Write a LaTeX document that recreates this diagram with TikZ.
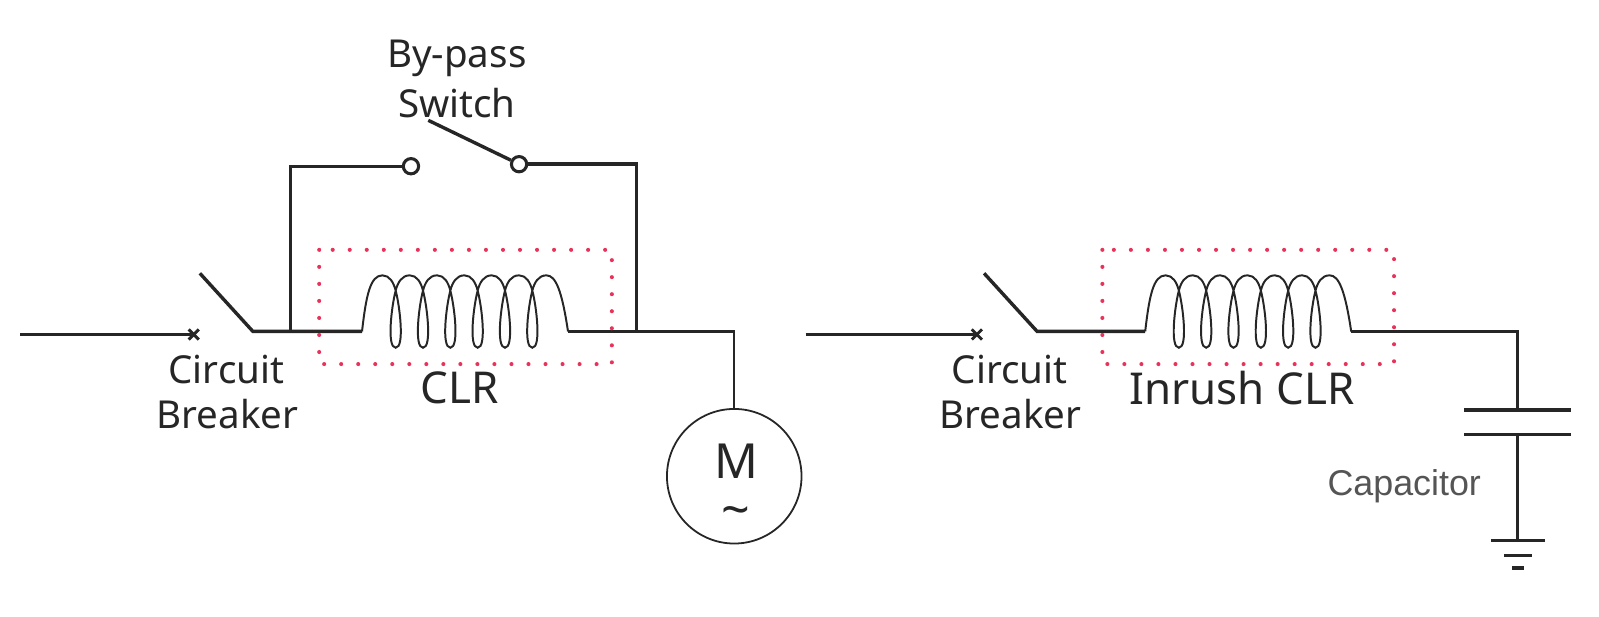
\documentclass[tikz,border=0pt]{standalone}
\usepackage{fontspec}
\setmainfont{Noto Sans}
\newfontfamily\capfont{Liberation Sans}
\usetikzlibrary{calc}

\definecolor{dotred}{RGB}{232,50,90}
\definecolor{capgray}{RGB}{85,85,85}

\tikzset{
  wire/.style={black!85,line width=1.9pt},
  coilwire/.style={black!85,line width=1.1pt},
  xmark/.style={black!85,line width=1.6pt},
  clrbox/.style={dotred,line width=0.08cm,line cap=round,dash pattern=on 0pt off 0.334cm},
  lbl/.style={inner sep=0pt,font=\fontsize{21.5}{21.5}\selectfont,text=black!85},
  biglbl/.style={inner sep=0pt,font=\fontsize{24.5}{24.5}\selectfont,text=black!85},
  contact/.style={circle,draw=black!85,line width=1.7pt,fill=white,minimum size=0.3cm,inner sep=0pt},
  pics/coil/.style={code={
    \draw[coilwire] (0,0) .. controls (4,-35) and (8,-55) .. (20,-55)
      foreach \k in {0,...,5} {
        .. controls ($(27+26.8*\k,-55)$) and ($(31+26.8*\k,-48)$) .. ($(33+26.8*\k,-40)$)
        .. controls ($(37+26.8*\k,-25)$) and ($(42+26.8*\k,16)$) .. ($(33+26.8*\k,16)$)
        .. controls ($(24+26.8*\k,16)$) and ($(29+26.8*\k,-25)$) .. ($(33+26.8*\k,-40)$)
        .. controls ($(35+26.8*\k,-48)$) and ($(39+26.8*\k,-55)$) .. ($(46.8+26.8*\k,-55)$)
      }
      .. controls (190,-55) and (196,-40) .. (202,0);
  }}
}

\begin{document}
\begin{tikzpicture}[x=0.02cm,y=-0.02cm]

\useasboundingbox (0,0) rectangle (1568,605);

% left circuit
\coordinate (Lin) at (20,328);
\coordinate (Lx) at (190,328);
\coordinate (Larm) at (196,268);
\coordinate (Lpiv) at (248,325);
\coordinate (Ltap) at (285,325);
\coordinate (Lcoila) at (355,325);
\coordinate (Lcoilb) at (557,325);
\coordinate (Lret) at (624,325);
\coordinate (Ltop) at (285,163);
\coordinate (Rtop) at (624,161);
\coordinate (Lcor) at (720,325);
\coordinate (Swarm) at (420,118);

\node[contact] (Swa) at (403,163) {};
\node[contact] (Swb) at (509,161) {};
\node[circle,draw=black!85,line width=1pt,minimum size=2.64cm,inner sep=0pt] (Motor) at (720,467) {};

\draw[wire] (Lin)--(Lx);
\draw[xmark] ($(Lx)+(-5,-5)$)--($(Lx)+(5,5)$);
\draw[xmark] ($(Lx)+(-5,5)$)--($(Lx)+(5,-5)$);
\draw[wire] (Larm)--(Lpiv)--(Lcoila);
\draw[wire] (Ltap)--(Ltop)--(Swa);
\draw[wire] (Swarm)--(Swb);
\draw[wire] (Swb)--(Rtop)--(Lret);
\draw[wire] (Lcoilb)--(Lret);
\draw[wire,line width=1.3pt] (Lret)--(Lcor)--(Motor);
\pic at (Lcoila) {coil};
\draw[clrbox] (313,245) rectangle (600,357);

\node[lbl] (Lbypass) at (448,57) {By-pass};
\node[lbl] (Lswitch) at (448,101) {Switch};
\node[lbl] (Lcircuit) at (222,362) {Circuit};
\node[lbl] (Lbreaker) at (223,406) {Breaker};
\node[biglbl] (Lclr) at (451,380) {CLR};
\node[inner sep=0pt,font=\fontsize{27}{27}\selectfont,text=black!85] (Mm) at (722,452) {M};
\node[inner sep=0pt,font=\fontsize{28}{28}\selectfont,text=black!85] (Mt) at (722,507) {\textasciitilde};

% right circuit
\coordinate (Rin) at (790,328);
\coordinate (Rx) at (958,328);
\coordinate (Rarm) at (965,268);
\coordinate (Rpiv) at (1017,325);
\coordinate (Rcoila) at (1123,325);
\coordinate (Rcoilb) at (1325,325);
\coordinate (Rcor) at (1488,325);
\coordinate (Capa) at (1488,402);
\coordinate (Capb) at (1488,426);
\coordinate (Gnd) at (1488,530);

\draw[wire] (Rin)--(Rx);
\draw[xmark] ($(Rx)+(-5,-5)$)--($(Rx)+(5,5)$);
\draw[xmark] ($(Rx)+(-5,5)$)--($(Rx)+(5,-5)$);
\draw[wire] (Rarm)--(Rpiv)--(Rcoila);
\draw[wire] (Rcoilb)--(Rcor)--(Capa);
\draw[wire] ($(Capa)+(-52,0)$)--($(Capa)+(53,0)$);
\draw[wire] ($(Capb)+(-52,0)$)--($(Capb)+(53,0)$);
\draw[wire] (Capb)--(Gnd);
\draw[wire] ($(Gnd)+(-26,0)$)--($(Gnd)+(27,0)$);
\draw[wire] ($(Gnd)+(-13,15)$)--($(Gnd)+(14,15)$);
\draw[wire] ($(Gnd)+(-5,27)$)--($(Gnd)+(6,27)$);
\pic at (Rcoila) {coil};
\draw[clrbox] (1081,245) rectangle (1367,357);

\node[lbl] (Rcircuit) at (990,362) {Circuit};
\node[lbl] (Rbreaker) at (991,406) {Breaker};
\node[biglbl] (Rclr) at (1218,381) {Inrush CLR};
\node[inner sep=0pt,font=\capfont\fontsize{20}{20}\selectfont,text=capgray] (Rcap) at (1377,477) {Capacitor};

\end{tikzpicture}
\end{document}
